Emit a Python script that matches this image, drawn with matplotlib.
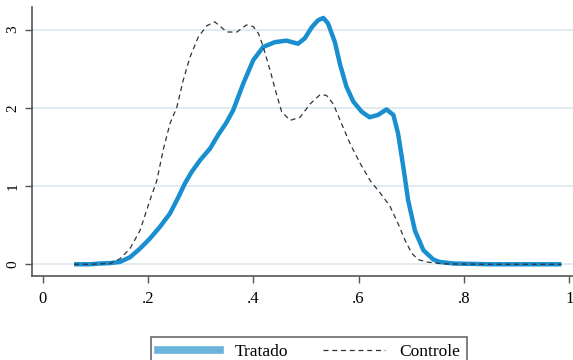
import matplotlib
matplotlib.use("Agg")
from matplotlib import pyplot as plt
from matplotlib.lines import Line2D

# valori (densita kernel)
x_trat = [0.06, 0.09, 0.109, 0.128, 0.147, 0.166, 0.185, 0.204, 0.223, 0.242, 0.258, 0.270,
          0.283, 0.299, 0.318, 0.334, 0.348, 0.362, 0.381, 0.400, 0.419, 0.441, 0.463,
          0.485, 0.498, 0.511, 0.523, 0.533, 0.542, 0.555, 0.565, 0.577, 0.590, 0.606,
          0.621, 0.637, 0.653, 0.666, 0.675, 0.685, 0.694, 0.707, 0.723, 0.742, 0.754,
          0.78, 0.85, 0.92, 0.985]
y_trat = [0.0, 0.0, 0.01, 0.015, 0.03, 0.09, 0.20, 0.33, 0.48, 0.65, 0.86, 1.03,
          1.18, 1.33, 1.48, 1.66, 1.80, 1.97, 2.31, 2.61, 2.78, 2.84, 2.86,
          2.82, 2.89, 3.03, 3.12, 3.15, 3.08, 2.84, 2.55, 2.27, 2.08, 1.95,
          1.88, 1.91, 1.98, 1.91, 1.67, 1.24, 0.82, 0.43, 0.18, 0.06, 0.03,
          0.01, 0.0, 0.0, 0.0]

x_ctrl = [0.06, 0.09, 0.109, 0.128, 0.147, 0.166, 0.185, 0.204, 0.217, 0.229, 0.242, 0.255,
          0.267, 0.280, 0.296, 0.312, 0.327, 0.350, 0.369, 0.387, 0.400, 0.410, 0.419,
          0.432, 0.444, 0.454, 0.470, 0.489, 0.508, 0.527, 0.539, 0.552, 0.565, 0.584,
          0.603, 0.622, 0.640, 0.659, 0.675, 0.688, 0.701, 0.713, 0.729, 0.76, 0.85,
          0.92, 0.985]
y_ctrl = [0.0, 0.0, 0.005, 0.01, 0.07, 0.20, 0.43, 0.82, 1.07, 1.46, 1.80, 2.01,
          2.35, 2.65, 2.91, 3.05, 3.10, 2.97, 2.97, 3.06, 3.04, 2.95, 2.78,
          2.48, 2.18, 1.95, 1.84, 1.88, 2.05, 2.17, 2.16, 2.05, 1.84, 1.54,
          1.29, 1.07, 0.92, 0.75, 0.52, 0.31, 0.14, 0.06, 0.03, 0.005, 0.0,
          0.0, 0.0]

xticks = [0, 0.2, 0.4, 0.6, 0.8, 1]
xlabels = ["0", ".2", ".4", ".6", ".8", "1"]
yticks = [0, 1, 2, 3]

plt.rcParams["font.family"] = ["Liberation Serif", "DejaVu Serif"]

fig = plt.figure(figsize=(5.73, 3.6), dpi=100)
ax = fig.add_axes([0.0558, 0.2333, 0.9442, 0.7473])

for yy in yticks:
    ax.axhline(yy, color="#dde9ee", linewidth=1.2, zorder=0)

ax.plot(x_trat, y_trat, color="#1a8fd0", linewidth=3.2, solid_joinstyle="round",
        solid_capstyle="butt", zorder=2)
ax.plot(x_ctrl, y_ctrl, color="#333333", linewidth=0.9, linestyle=(0, (4, 3)),
        dash_joinstyle="round", zorder=3)

ax.set_xlim(-0.02, 1.007)
ax.set_ylim(-0.15, 3.29)
ax.set_xticks(xticks)
ax.set_xticklabels(xlabels)
ax.set_yticks(yticks)
ax.set_yticklabels([str(v) for v in yticks], rotation=90, va="center")
ax.tick_params(length=5, width=1, color="#555555")
ax.tick_params(axis="x", labelsize=12, pad=6)
ax.tick_params(axis="y", labelsize=11, pad=4)
for s in ["top", "right"]:
    ax.spines[s].set_visible(False)
for s in ["left", "bottom"]:
    ax.spines[s].set_color("#555555")
    ax.spines[s].set_linewidth(1.2)

h1 = Line2D([], [], color="#6ab4dc", linewidth=5.5)
h2 = Line2D([], [], color="#333333", linewidth=0.9, linestyle=(0, (4, 3)))
leg = fig.legend([h1, h2], ["Tratado", "Controle"], loc="upper left",
                 bbox_to_anchor=(151 / 573, 1 - 337 / 360), borderaxespad=0,
                 ncol=2, fontsize=12.5, frameon=True, fancybox=False,
                 edgecolor="#444444", handlelength=3.6, columnspacing=2.0,
                 borderpad=0.4, handletextpad=0.8)
leg.get_frame().set_linewidth(1.2)

plt.savefig("out.png", dpi=100)
